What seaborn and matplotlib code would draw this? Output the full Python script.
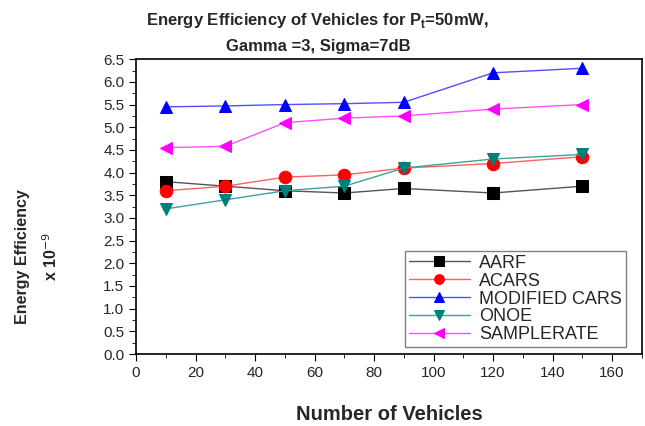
import pandas as pd
import seaborn as sns
import matplotlib.pyplot as plt
from matplotlib.ticker import MultipleLocator

vehicles = [10, 30, 50, 70, 90, 120, 150]
aarf = [3.8, 3.7, 3.6, 3.55, 3.65, 3.55, 3.7]
acars = [3.6, 3.7, 3.9, 3.95, 4.1, 4.2, 4.35]
modified_cars = [5.45, 5.47, 5.5, 5.52, 5.55, 6.2, 6.3]
onoe = [3.2, 3.4, 3.6, 3.7, 4.1, 4.3, 4.4]
samplerate = [4.55, 4.58, 5.1, 5.2, 5.25, 5.4, 5.5]


def main():
    sns.set_style('ticks')
    plt.rcParams['font.family'] = ['Liberation Sans', 'DejaVu Sans']

    series = [('AARF', aarf, 'black', 's'),
              ('ACARS', acars, 'red', 'o'),
              ('MODIFIED CARS', modified_cars, 'blue', '^'),
              ('ONOE', onoe, '#007f7f', 'v'),
              ('SAMPLERATE', samplerate, 'magenta', '<')]
    line_colors = {'AARF': '#555555', 'ACARS': '#ff6060', 'MODIFIED CARS': '#5050ff',
                   'ONOE': '#40a0a0', 'SAMPLERATE': '#ff50ff'}

    fig = plt.figure(figsize=(6.45, 4.26), dpi=100)
    ax = fig.add_axes([0.211, 0.169, 0.784, 0.692])

    for name, values, color, marker in series:
        df = pd.DataFrame({'x': vehicles, 'y': values})
        sns.lineplot(data=df, x='x', y='y', ax=ax, color=line_colors[name], lw=1,
                     marker=marker, markersize=9, markerfacecolor=color,
                     markeredgecolor=color, label=name)

    ax.set_xlim(0, 170)
    ax.set_ylim(0, 6.5)
    ax.xaxis.set_major_locator(MultipleLocator(20))
    ax.xaxis.set_minor_locator(MultipleLocator(10))
    ax.yaxis.set_major_locator(MultipleLocator(0.5))
    ax.yaxis.set_minor_locator(MultipleLocator(0.25))
    ax.yaxis.set_major_formatter(lambda v, p: f'{v:.1f}')
    ax.tick_params(which='both', direction='out', color='black', labelsize=11)
    ax.tick_params(which='major', length=5)
    ax.tick_params(which='minor', length=3)
    for s in ax.spines.values():
        s.set_visible(True)
        s.set_color('black')
        s.set_linewidth(1.2)

    ax.set_xlabel('Number of Vehicles', fontsize=14.5, fontweight='bold', labelpad=18)
    ax.set_ylabel('Energy Efficiency\nx 10$^{-9}$', fontsize=11.5, fontweight='bold', linespacing=1.7)
    ax.yaxis.set_label_coords(-0.151, 0.33)
    fig.text(0.493, 0.975, 'Energy Efficiency of Vehicles for P$_\\mathregular{t}$=50mW,\nGamma =3, Sigma=7dB',
             ha='center', va='top', fontsize=12, fontweight='bold', linespacing=1.75)

    leg = ax.legend(loc='lower right', bbox_to_anchor=(0.968, 0.024), borderaxespad=0, fontsize=13,
                    fancybox=False, edgecolor='gray', framealpha=1,
                    handlelength=3.4, borderpad=0.2, labelspacing=0.05, handletextpad=0.5)
    leg.get_frame().set_linewidth(1)
    for h in leg.legend_handles:
        h.set_markersize(7)

    fig.savefig('out.png', dpi=100)


if __name__ == '__main__':
    main()
